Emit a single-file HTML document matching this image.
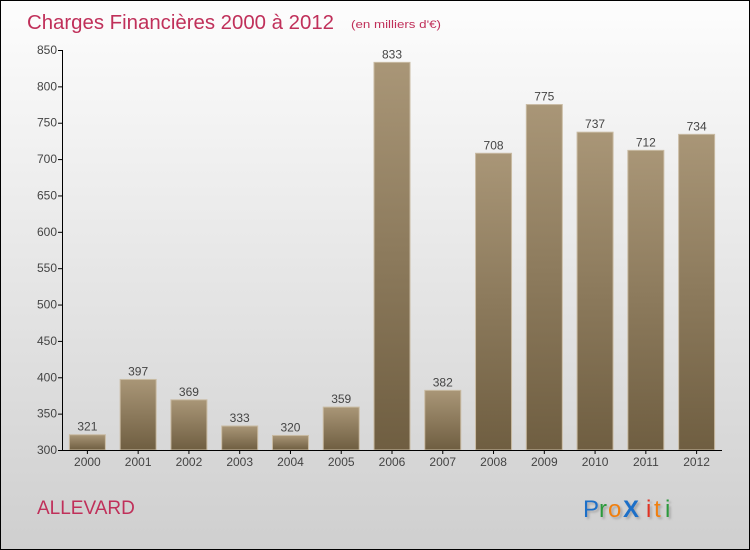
<!DOCTYPE html>
<html><head><meta charset="utf-8"><style>
body{margin:0;}
#c{position:relative;width:748px;height:548px;border:1px solid #000;background:linear-gradient(#fdfdfd,#cfcfcf);font-family:"Liberation Sans",sans-serif;overflow:hidden}
</style></head><body>
<div id="c">
<svg width="748" height="548" style="position:absolute;left:0;top:0" id="svg">
<defs><linearGradient id="bg" x1="0" y1="0" x2="0" y2="1"><stop offset="0" stop-color="#a99677"/><stop offset="1" stop-color="#6f5e41"/></linearGradient>
<filter id="sh"><feDropShadow dx="2" dy="2" stdDeviation="1" flood-color="#888" flood-opacity="0.6"/></filter></defs>
<text x="26" y="28" font-size="20" fill="#c0305a" textLength="307" lengthAdjust="spacingAndGlyphs">Charges Financières 2000 à 2012</text>
<text x="350" y="27" font-size="11" fill="#c0305a" textLength="90" lengthAdjust="spacingAndGlyphs">(en milliers d'€)</text>
<text x="36" y="513" font-size="19" fill="#c0305a">ALLEVARD</text>
<g font-size="24" font-family="Liberation Sans,sans-serif" filter="url(#sh)">
<text x="582" y="516" fill="#1a6fc8">P</text><text x="598" y="516" fill="#2a9a3a">r</text><text x="607" y="516" fill="#f08010">o</text><text x="622" y="516" fill="#1a6fc8" font-weight="bold">X</text><text x="645" y="516" fill="#e03020">i</text><text x="653" y="516" fill="#f08010">t</text><text x="664" y="516" fill="#2a9a3a">i</text></g>
</svg>
</div>
<script>
const categories=["2000","2001","2002","2003","2004","2005","2006","2007","2008","2009","2010","2011","2012"];
const values=[321,397,369,333,320,359,833,382,708,775,737,712,734];
const yTicks=[300,350,400,450,500,550,600,650,700,750,800,850];
const svg=document.getElementById('svg');
const NS="http://www.w3.org/2000/svg";
const x0=61,x1=721,yTop=49,yBot=449,vMin=300,vMax=850;
const y=v=>yBot-(v-vMin)/(vMax-vMin)*(yBot-yTop);
const step=(x1-x0)/categories.length;
const xc=i=>x0+step*(i+0.5);
function mk(t,a){const e=document.createElementNS(NS,t);for(const k in a)e.setAttribute(k,a[k]);svg.appendChild(e);return e;}
yTicks.forEach(v=>{
 const tk=mk('line',{x1:x0-4,x2:x0,y1:y(v)+0.5,y2:y(v)+0.5,stroke:'#000'});
 
 
 const t=mk('text',{x:x0-5,y:y(v)+4,'font-size':12,fill:'#444','text-anchor':'end'});
 t.textContent=v;
 
 
});
categories.forEach((c,i)=>{
 const w=36,v=values[i];
 const r=mk('rect',{x:xc(i)-w/2,y:y(v),width:w,height:yBot-y(v),fill:'url(#bg)',stroke:'#c9bba3','stroke-width':1});
 
 
 const t=mk('text',{x:xc(i),y:y(v)-4,'font-size':12,fill:'#444','text-anchor':'middle'});
 t.textContent=v;
 
 
 const tk=mk('line',{x1:xc(i),x2:xc(i),y1:yBot,y2:yBot+4,stroke:'#000'});
 
 
 const xl=mk('text',{x:xc(i),y:yBot+16,'font-size':12,fill:'#444','text-anchor':'middle'});
 xl.textContent=c;
 
 
});
const ax=mk('line',{x1:x0+0.5,x2:x0+0.5,y1:yTop,y2:yBot,stroke:'#000'});


const bx=mk('line',{x1:x0,x2:x1,y1:yBot+0.5,y2:yBot+0.5,stroke:'#000'});


</script>
</body></html>
